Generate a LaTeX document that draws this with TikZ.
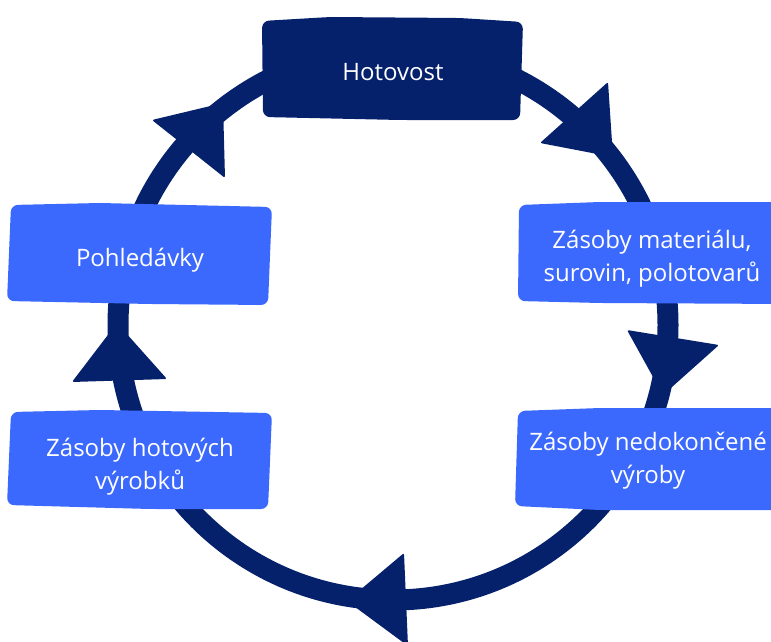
\documentclass[tikz,border=0pt]{standalone}
\usepackage{fontspec}
\setmainfont{Open Sans}
\definecolor{navy}{RGB}{6,33,108}
\definecolor{boxblue}{RGB}{59,104,253}
\tikzset{
  ring/.style={draw=navy, line width=21pt},
  head/.style={fill=navy, rounded corners=2pt},
  darkbox/.style={fill=navy, rounded corners=7pt},
  bluebox/.style={fill=boxblue, rounded corners=7pt},
  label/.style={text=white, align=center, font=\fontsize{24}{33}\selectfont, inner sep=0pt}
}
\begin{document}
\begin{tikzpicture}[x=1pt,y=-1pt]
\useasboundingbox (0,0) rectangle (771,642);
\clip (0,0) rectangle (771,642);
% ring
\coordinate (c) at (393,325);
\draw[ring] (c) circle[radius=275pt];
% arrowheads (clockwise flow)
\fill[head] (152,120) -- (223,103) -- (225,178) -- cycle;
\fill[head] (540,143) -- (608,82) -- (613,157) -- cycle;
\fill[head] (627,330) -- (719,345) -- (663,395) -- cycle;
\fill[head] (404,553) -- (347,601) -- (408,646) -- cycle;
\fill[head] (72,382) -- (117,323) -- (167,379) -- cycle;
% boxes
\fill[darkbox] (262,21) -- (330,17) -- (460,18) -- (523,22) -- (520,120) -- (400,120) -- (263,117) -- cycle;
\fill[bluebox] (11,205) -- (100,203) -- (272,207) -- (268,305) -- (150,304) -- (7,301) -- cycle;
\fill[bluebox] (519,205) -- (600,202) -- (790,202) -- (790,304) -- (600,303) -- (518,301) -- cycle;
\fill[bluebox] (11,412) -- (100,410) -- (272,413) -- (268,509) -- (150,509) -- (7,505) -- cycle;
\fill[bluebox] (518,411) -- (600,408) -- (790,408) -- (790,510) -- (600,510) -- (515,506) -- cycle;
% labels
\node[label] (hotovost) at (393,72) {Hotovost};
\node[label] (pohledavky) at (140,260) {Pohledávky};
\node[label] (material) at (652,259) {Zásoby materiálu,\\surovin, polotovarů};
\node[label] (nedokoncene) at (648,461) {Zásoby nedokončené\\výroby};
\node[label] (hotove) at (140,467) {Zásoby hotových\\výrobků};
\end{tikzpicture}
\end{document}
